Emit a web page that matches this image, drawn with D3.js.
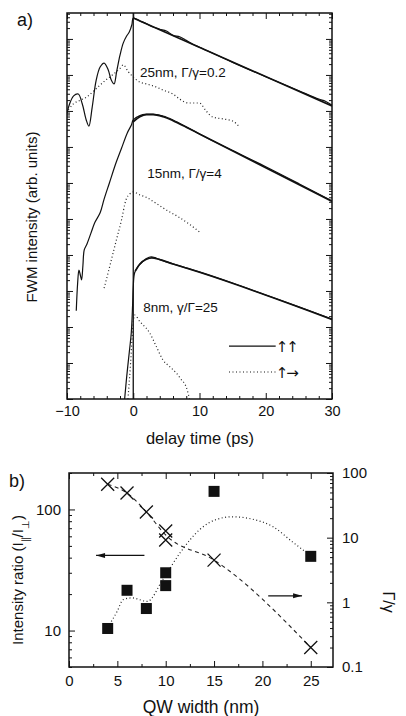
<!DOCTYPE html>
<html>
<head>
<meta charset="utf-8">
<script src="https://cdn.jsdelivr.net/npm/d3@7"></script>
<style>
  body { margin: 0; background: #fff; }
  text { font-family: "Liberation Sans", Arial, sans-serif; fill: #111; }
</style>
</head>
<body>
<svg id="chart" width="406" height="716"></svg>
<script>
// ---------- panel a) : FWM traces, [delay (ps), log10 intensity]
const trace25Par = [[-10, 7.94], [-9.6, 8.2], [-9.0, 8.42], [-8.3, 8.47], [-7.7, 8.2], [-7.1, 7.75], [-6.7, 7.58],
  [-6.2, 8.1], [-5.6, 8.85], [-5.0, 9.22], [-4.4, 9.33], [-3.8, 9.15], [-3.3, 8.85], [-2.9, 8.75], [-2.5, 9.1],
  [-2.0, 9.55], [-1.5, 9.89], [-1.0, 10.08], [-0.6, 10.19], [-0.2, 10.4], [0, 10.58], [1, 10.5], [2, 10.42],
  [3, 10.33], [4, 10.27], [5, 10.22], [6, 10.1], [7, 10.06], [8, 9.96], [9, 9.85], [10, 9.77], [15, 9.35],
  [20, 8.95], [25, 8.56], [28, 8.33], [29, 8.27], [30, 8.16]];
const trace25Perp = [[-9.8, 8.03], [-9, 8.2], [-8, 8.3], [-7, 8.39], [-6, 8.55], [-5, 8.72], [-4, 8.88],
  [-3, 9.02], [-2, 9.18], [-1.5, 9.28], [-0.8, 9.1], [0, 8.94], [1, 8.8], [2, 8.75], [3.4, 8.67], [4.5, 8.58],
  [6, 8.47], [7, 8.33], [8.4, 8.22], [10, 8.22], [11, 8.0], [12, 7.83], [13.5, 7.78], [15, 7.72], [16, 7.56]];
const fit25 = [[0, 10.58], [30, 8.14]];

const trace15Par = [[-8.6, 2.45], [-8.4, 3.2], [-8.2, 3.58], [-8.0, 3.45], [-7.8, 3.31], [-7.6, 3.7],
  [-7.4, 4.14], [-7.0, 4.3], [-6.4, 4.6], [-5.8, 4.9], [-5.0, 5.17], [-4.4, 5.55], [-3.6, 6.0], [-2.6, 6.56],
  [-1.8, 6.95], [-0.9, 7.39], [-0.3, 7.6], [0, 7.75], [1, 7.87], [2, 7.91], [3, 7.91], [4.5, 7.86], [6, 7.75],
  [8, 7.56], [10, 7.36], [15, 6.9], [20, 6.45], [25, 5.98], [30, 5.5]];
const trace15Perp = [[-4.4, 3.08], [-3.8, 3.5], [-3.2, 3.94], [-2.5, 4.45], [-1.8, 4.95], [-1.1, 5.53],
  [-0.5, 5.7], [0, 5.75], [1, 5.67], [2, 5.6], [3.4, 5.44], [5, 5.25], [6.8, 5.06], [8.5, 4.85], [10, 4.64]];
const fit15 = [[0, 7.7], [1, 7.84], [2, 7.9], [3, 7.9], [4.5, 7.84], [6, 7.73], [8, 7.55], [10, 7.36], [30, 5.49]];

const trace8Par = [[-1.3, 0], [-1.0, 0.6], [-0.6, 1.3], [-0.3, 1.83], [-0.1, 2.6], [0, 3.11], [0.2, 3.5],
  [0.7, 3.68], [1.4, 3.81], [2, 3.9], [2.7, 3.95], [3.5, 3.91], [5, 3.81], [7.5, 3.67], [10, 3.53],
  [15, 3.22], [20, 2.89], [25, 2.56], [30, 2.22]];
const trace8Perp = [[-0.8, 0], [-0.4, 1.0], [-0.1, 1.9], [0.2, 2.33], [1, 2.15], [2.5, 1.83], [3.5, 1.45],
  [4.5, 1.08], [5.5, 0.9], [6.5, 0.72], [7.2, 0.55], [8, 0.33], [8.5, 0]];
const fit8 = [[0.3, 3.55], [1, 3.75], [2, 3.88], [2.8, 3.92], [4, 3.87], [6, 3.75], [10, 3.52], [30, 2.21]];

const traceLabels = ["25nm, Γ/γ=0.2", "15nm, Γ/γ=4", "8nm, γ/Γ=25"];
const traceLabelPos = [[1.0, 8.94], [2.1, 6.14], [1.5, 2.42]];
const legendLabels = ["↑↑", "↑→"];
const delayTicks = [-10, 0, 10, 20, 30];

// ---------- panel b) : QW width dependence
const ratioWidth = [4, 6, 8, 10, 10, 15, 25];
const ratioValue = [10.4, 21.5, 15.2, 30, 23.5, 141, 41];
const ratioGuide = [[4, 10.6], [5, 14.5], [5.6, 18], [6.5, 18.6], [8.1, 17.4], [9.7, 26.4], [11.5, 44],
  [13.5, 68], [15.3, 83], [16.9, 87], [19, 83], [21.1, 72], [23.1, 54], [24.4, 45]];
const gammaWidth = [4, 6, 8, 10, 10, 15, 25];
const gammaValue = [67, 49, 25, 12.7, 9.2, 4.5, 0.2];
const gammaGuide = [[4, 67], [6, 49], [8, 25], [10, 11], [15, 4.5], [25, 0.2]];
const widthTicks = [0, 5, 10, 15, 20, 25];
const ratioTicks = [10, 100];
const gammaTicks = [0.1, 1, 10, 100];

const svg = d3.select("#chart");

const addAxis = (axisFn, scale, vals, size, transform, fmt, pad, fs) => {
  const ax = axisFn(scale)
    .tickValues(vals)
    .tickSizeInner(-size)
    .tickSizeOuter(0)
    .tickPadding(pad || 6)
    .tickFormat(fmt || (() => ""));
  const g = svg.append("g").attr("transform", transform).call(ax);
  g.select(".domain").remove();
  g.selectAll("line").attr("stroke", "#111").attr("stroke-width", 1);
  g.selectAll("text").style("font-size", fs || "14px").attr("fill", "#111")
    .style("font-family", '"Liberation Sans", Arial, sans-serif');
  return g;
};

const logMinors = (lo, hi, maxV) => {
  const out = [];
  for (let d = lo; d <= hi; d++) {
    for (let k = 2; k <= 9; k++) {
      const v = k * Math.pow(10, d);
      if (v <= maxV) out.push(v);
    }
  }
  return out;
};

// ================= panel a =================
const xA = d3.scaleLinear().domain([-10, 30]).range([67, 332]);
const yA = d3.scaleLog().domain([1, 5.25e10]).range([399, 13]);
const ya = (v) => yA(Math.pow(10, v));

const aMinorX = d3.range(-10, 31, 2).filter((d) => d % 10 !== 0);
const aMajorY = d3.range(0, 11).map((d) => Math.pow(10, d));
const aMinorY = logMinors(0, 10, 5.25e10);

addAxis(d3.axisBottom, xA, delayTicks, 6, "translate(0,399)", d3.format("d"), 7, "14.5px");
addAxis(d3.axisBottom, xA, aMinorX, 3, "translate(0,399)");
addAxis(d3.axisTop, xA, delayTicks, 6, "translate(0,13)");
addAxis(d3.axisTop, xA, aMinorX, 3, "translate(0,13)");
addAxis(d3.axisLeft, yA, aMajorY, 6, "translate(67,0)");
addAxis(d3.axisLeft, yA, aMinorY, 3, "translate(67,0)");
addAxis(d3.axisRight, yA, aMajorY, 6, "translate(332,0)");
addAxis(d3.axisRight, yA, aMinorY, 3, "translate(332,0)");

svg.append("rect")
  .attr("x", 67).attr("y", 13).attr("width", 265).attr("height", 386)
  .attr("fill", "none").attr("stroke", "#111").attr("stroke-width", 1.5);

const lineA = d3.line().x((d) => xA(d[0])).y((d) => ya(d[1]));
svg.append("clipPath").attr("id", "clipA")
  .append("rect").attr("x", 67).attr("y", 13).attr("width", 265).attr("height", 386);

const gA = svg.append("g").attr("clip-path", "url(#clipA)");

// zero delay marker
gA.append("line")
  .attr("x1", xA(0)).attr("x2", xA(0))
  .attr("y1", yA.range()[0]).attr("y2", yA.range()[1])
  .attr("stroke", "#111").attr("stroke-width", 1.3);

[trace25Perp, trace15Perp, trace8Perp].forEach((tr) => {
  gA.append("path").datum(tr).attr("d", lineA.curve(d3.curveMonotoneX))
    .attr("fill", "none").attr("stroke", "#222").attr("stroke-width", 1.2)
    .attr("stroke-dasharray", "1,2.5");
});
[trace25Par, trace15Par, trace8Par].forEach((tr) => {
  gA.append("path").datum(tr).attr("d", lineA.curve(d3.curveCatmullRom))
    .attr("fill", "none").attr("stroke", "#111").attr("stroke-width", 1.2);
});
[fit25, fit15, fit8].forEach((tr) => {
  gA.append("path").datum(tr).attr("d", lineA.curve(d3.curveMonotoneX))
    .attr("fill", "none").attr("stroke", "#111").attr("stroke-width", 1.7);
});

traceLabels.forEach((lab, i) => {
  svg.append("text")
    .attr("x", xA(traceLabelPos[i][0]))
    .attr("y", ya(traceLabelPos[i][1]))
    .style("font-size", "13.5px")
    .text(lab);
});

// legend
const legendY = [1.47, 0.75];
legendLabels.forEach((lab, i) => {
  svg.append("line")
    .attr("x1", xA(14.45)).attr("x2", xA(21.5))
    .attr("y1", ya(legendY[i])).attr("y2", ya(legendY[i]))
    .attr("stroke", "#111").attr("stroke-width", 1.2)
    .attr("stroke-dasharray", i === 0 ? null : "1,2.5");
  svg.append("text")
    .attr("x", xA(21.5)).attr("y", ya(legendY[i]) + 6)
    .style("font-family", '"DejaVu Sans", sans-serif')
    .style("font-size", "15px")
    .attr("letter-spacing", "-2")
    .text(lab);
});

svg.append("text").attr("x", 17).attr("y", 26).style("font-size", "18px").text("a)");
svg.append("text")
  .attr("transform", "translate(37,217) rotate(-90)")
  .attr("text-anchor", "middle")
  .style("font-size", "15px")
  .text("FWM intensity (arb. units)");
svg.append("text")
  .attr("x", 200).attr("y", 444)
  .attr("text-anchor", "middle")
  .style("font-size", "16.5px")
  .text("delay time (ps)");

// ================= panel b =================
const xB = d3.scaleLinear().domain([0, 27.3]).range([69, 333]);
const yL = d3.scaleLog().domain([5, 200]).range([667, 473]);
const yR = d3.scaleLog().domain([0.1, 100]).range([667, 473]);

const bMinorX = d3.range(2.5, 27.3, 5);
const ratioMinor = [5, 6, 7, 8, 9, 20, 30, 40, 50, 60, 70, 80, 90, 200];
const gammaMinor = logMinors(-1, 1, 100);

addAxis(d3.axisBottom, xB, widthTicks, 6, "translate(0,667)", d3.format("d"), 8, "15px");
addAxis(d3.axisBottom, xB, bMinorX, 3, "translate(0,667)");
addAxis(d3.axisTop, xB, widthTicks, 6, "translate(0,473)");
addAxis(d3.axisTop, xB, bMinorX, 3, "translate(0,473)");
addAxis(d3.axisLeft, yL, ratioTicks, 6, "translate(69,0)", d3.format("d"), 8, "15px");
addAxis(d3.axisLeft, yL, ratioMinor, 3, "translate(69,0)");
addAxis(d3.axisRight, yR, gammaTicks, 6, "translate(333,0)", (d) => (d < 1 ? "0.1" : d3.format("d")(d)), 9, "15px");
addAxis(d3.axisRight, yR, gammaMinor, 3, "translate(333,0)");

svg.append("rect")
  .attr("x", 69).attr("y", 473).attr("width", 264).attr("height", 194)
  .attr("fill", "none").attr("stroke", "#111").attr("stroke-width", 1.5);

// guides
svg.append("path").datum(ratioGuide)
  .attr("d", d3.line().x((d) => xB(d[0])).y((d) => yL(d[1])).curve(d3.curveMonotoneX))
  .attr("fill", "none").attr("stroke", "#222").attr("stroke-width", 1.2)
  .attr("stroke-dasharray", "1,2.5");
svg.append("path").datum(gammaGuide)
  .attr("d", d3.line().x((d) => xB(d[0])).y((d) => yR(d[1])).curve(d3.curveMonotoneX))
  .attr("fill", "none").attr("stroke", "#222").attr("stroke-width", 1.1)
  .attr("stroke-dasharray", "4,3.5");

// squares
svg.selectAll(".sq").data(ratioWidth).enter().append("rect")
  .attr("class", "sq")
  .attr("x", (d) => xB(d) - 5.5)
  .attr("y", (d, i) => yL(ratioValue[i]) - 5.5)
  .attr("width", 11).attr("height", 11)
  .attr("fill", "#111");

// crosses
svg.selectAll(".cr").data(gammaWidth).enter().append("path")
  .attr("class", "cr")
  .attr("d", (d, i) => {
    const cx = xB(d), cy = yR(gammaValue[i]), r = 6.5;
    return `M${cx - r},${cy - r}L${cx + r},${cy + r}M${cx - r},${cy + r}L${cx + r},${cy - r}`;
  })
  .attr("stroke", "#111").attr("stroke-width", 1.3).attr("fill", "none");

// arrows
const arrow = (x1, y1, x2, y2) => {
  svg.append("line").attr("x1", x1).attr("y1", y1).attr("x2", x2).attr("y2", y2)
    .attr("stroke", "#111").attr("stroke-width", 1.2);
  const dir = Math.sign(x2 - x1);
  svg.append("path")
    .attr("d", `M${x2},${y2}L${x2 - dir * 9},${y2 - 2.5}L${x2 - dir * 9},${y2 + 2.5}Z`)
    .attr("fill", "#111");
};
arrow(xB(7.8), yL(41.7), xB(2.8), yL(41.7));
arrow(xB(20.6), yR(1.26), xB(24.1), yR(1.26));

svg.append("text").attr("x", 9).attr("y", 487).style("font-size", "18px").text("b)");

const yLab = svg.append("text")
  .attr("transform", "translate(23,580) rotate(-90)")
  .attr("text-anchor", "middle")
  .style("font-size", "15px");
yLab.append("tspan").text("Intensity ratio (I");
yLab.append("tspan").attr("baseline-shift", "sub").style("font-size", "10px").text("∥");
yLab.append("tspan").text("/I");
yLab.append("tspan").attr("baseline-shift", "sub").style("font-size", "10px").text("⊥");
yLab.append("tspan").text(")");

svg.append("text")
  .attr("transform", "translate(383,602) rotate(90)")
  .attr("text-anchor", "middle")
  .style("font-size", "16px")
  .text("Γ/γ");

svg.append("text")
  .attr("x", 201).attr("y", 713)
  .attr("text-anchor", "middle")
  .style("font-size", "17.5px")
  .text("QW width (nm)");
</script>
</body>
</html>
